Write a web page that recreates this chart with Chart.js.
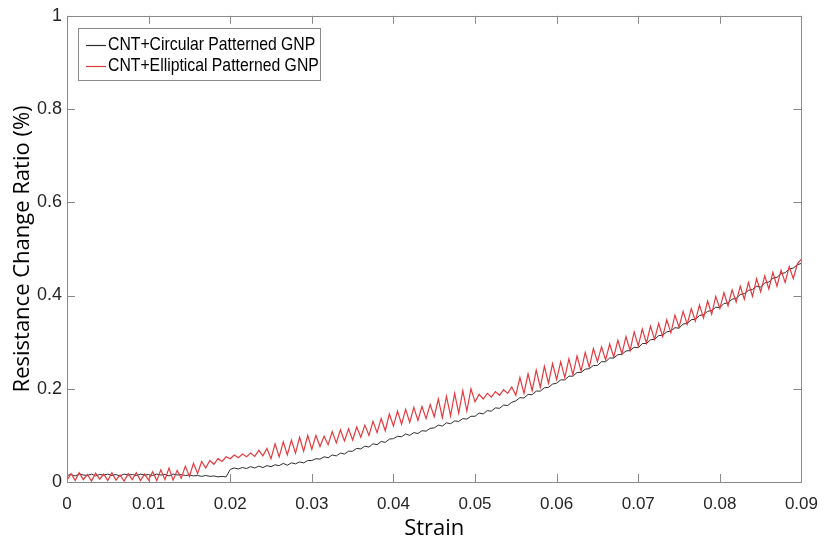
<!DOCTYPE html>
<html>
<head>
<meta charset="utf-8">
<script src="https://cdn.jsdelivr.net/npm/chart.js@4.4.1/dist/chart.umd.min.js"></script>
<style>
  html, body { margin: 0; padding: 0; background: #fff; }
  #wrap { width: 830px; height: 546px; position: relative; }
</style>
</head>
<body>
<div id="wrap"><canvas id="strainChart" width="830" height="546"></canvas></div>
<script>
// strain values (x), one sample every 0.0005
const strain = [
  0.0000,0.0005,0.0010,0.0015,0.0020,0.0025,0.0030,0.0035,0.0040,0.0045,
  0.0050,0.0055,0.0060,0.0065,0.0070,0.0075,0.0080,0.0085,0.0090,0.0095,
  0.0100,0.0105,0.0110,0.0115,0.0120,0.0125,0.0130,0.0135,0.0140,0.0145,
  0.0150,0.0155,0.0160,0.0165,0.0170,0.0175,0.0180,0.0185,0.0190,0.0195,
  0.0200,0.0205,0.0210,0.0215,0.0220,0.0225,0.0230,0.0235,0.0240,0.0245,
  0.0250,0.0255,0.0260,0.0265,0.0270,0.0275,0.0280,0.0285,0.0290,0.0295,
  0.0300,0.0305,0.0310,0.0315,0.0320,0.0325,0.0330,0.0335,0.0340,0.0345,
  0.0350,0.0355,0.0360,0.0365,0.0370,0.0375,0.0380,0.0385,0.0390,0.0395,
  0.0400,0.0405,0.0410,0.0415,0.0420,0.0425,0.0430,0.0435,0.0440,0.0445,
  0.0450,0.0455,0.0460,0.0465,0.0470,0.0475,0.0480,0.0485,0.0490,0.0495,
  0.0500,0.0505,0.0510,0.0515,0.0520,0.0525,0.0530,0.0535,0.0540,0.0545,
  0.0550,0.0555,0.0560,0.0565,0.0570,0.0575,0.0580,0.0585,0.0590,0.0595,
  0.0600,0.0605,0.0610,0.0615,0.0620,0.0625,0.0630,0.0635,0.0640,0.0645,
  0.0650,0.0655,0.0660,0.0665,0.0670,0.0675,0.0680,0.0685,0.0690,0.0695,
  0.0700,0.0705,0.0710,0.0715,0.0720,0.0725,0.0730,0.0735,0.0740,0.0745,
  0.0750,0.0755,0.0760,0.0765,0.0770,0.0775,0.0780,0.0785,0.0790,0.0795,
  0.0800,0.0805,0.0810,0.0815,0.0820,0.0825,0.0830,0.0835,0.0840,0.0845,
  0.0850,0.0855,0.0860,0.0865,0.0870,0.0875,0.0880,0.0885,0.0890,0.0895,
  0.0900
];

// CNT+Circular Patterned GNP (black)
const circular = [
  0.014,0.016,0.013,0.017,0.015,0.014,0.017,0.013,0.016,0.015,
  0.017,0.014,0.016,0.013,0.017,0.015,0.016,0.014,0.017,0.015,
  0.016,0.014,0.017,0.015,0.016,0.013,0.017,0.015,0.016,0.014,
  0.015,0.013,0.014,0.012,0.014,0.012,0.013,0.011,0.012,0.011,
  0.027,0.030,0.028,0.031,0.029,0.033,0.030,0.034,0.031,0.035,
  0.033,0.037,0.035,0.040,0.036,0.041,0.039,0.043,0.041,0.046,
  0.046,0.050,0.049,0.054,0.052,0.058,0.056,0.062,0.060,0.066,
  0.066,0.072,0.071,0.077,0.075,0.082,0.080,0.087,0.085,0.092,
  0.093,0.098,0.097,0.103,0.100,0.106,0.104,0.110,0.109,0.115,
  0.116,0.122,0.120,0.127,0.125,0.131,0.130,0.136,0.135,0.141,
  0.141,0.148,0.146,0.153,0.152,0.159,0.158,0.165,0.164,0.171,
  0.174,0.181,0.180,0.188,0.187,0.195,0.195,0.202,0.203,0.210,
  0.212,0.219,0.219,0.227,0.227,0.235,0.235,0.242,0.243,0.250,
  0.250,0.258,0.258,0.266,0.266,0.273,0.274,0.281,0.282,0.289,
  0.288,0.297,0.297,0.305,0.306,0.314,0.315,0.322,0.324,0.331,
  0.330,0.339,0.340,0.348,0.349,0.357,0.359,0.366,0.368,0.375,
  0.374,0.383,0.384,0.392,0.394,0.402,0.404,0.411,0.413,0.420,
  0.418,0.427,0.429,0.437,0.439,0.447,0.449,0.457,0.459,0.466,
  0.469
];

// CNT+Elliptical Patterned GNP (red)
const elliptical = [
  0.004,0.018,0.003,0.020,0.005,0.016,0.002,0.019,0.006,0.017,
  0.003,0.020,0.004,0.015,0.002,0.018,0.005,0.020,0.003,0.017,
  0.004,0.022,0.003,0.026,0.005,0.030,0.004,0.025,0.008,0.034,
  0.012,0.040,0.018,0.044,0.030,0.046,0.038,0.050,0.044,0.054,
  0.050,0.058,0.052,0.060,0.054,0.062,0.055,0.068,0.056,0.072,
  0.050,0.082,0.054,0.086,0.058,0.090,0.062,0.096,0.066,0.100,
  0.070,0.100,0.076,0.098,0.080,0.108,0.084,0.112,0.088,0.114,
  0.090,0.118,0.096,0.122,0.100,0.130,0.106,0.136,0.110,0.146,
  0.120,0.152,0.124,0.156,0.128,0.160,0.132,0.162,0.136,0.166,
  0.140,0.178,0.138,0.184,0.142,0.190,0.148,0.196,0.152,0.200,
  0.172,0.188,0.178,0.190,0.182,0.194,0.186,0.198,0.190,0.204,
  0.186,0.224,0.190,0.232,0.196,0.240,0.203,0.248,0.212,0.254,
  0.220,0.258,0.224,0.264,0.230,0.270,0.238,0.278,0.246,0.286,
  0.258,0.290,0.262,0.296,0.268,0.304,0.275,0.312,0.282,0.322,
  0.292,0.328,0.298,0.334,0.306,0.340,0.312,0.348,0.320,0.358,
  0.332,0.366,0.338,0.372,0.345,0.380,0.352,0.388,0.360,0.398,
  0.372,0.406,0.378,0.412,0.386,0.420,0.392,0.428,0.398,0.436,
  0.408,0.442,0.414,0.450,0.420,0.454,0.428,0.462,0.436,0.468,
  0.478
];

const seriesNames = ["CNT+Circular Patterned GNP", "CNT+Elliptical Patterned GNP"];
const seriesColors = ["#2e2e2e", "#e23a3f"];

const toPoints = (ys) => strain.map((s, i) => ({ x: s, y: ys[i] }));

// axis box + inward ticks, matlab style
const boxPlugin = {
    id: "boxPlugin",
    afterDraw(chart) {
        const { ctx, chartArea: a, scales: { x, y } } = chart;
        ctx.save();
        ctx.strokeStyle = "#8a8a8a";
        ctx.lineWidth = 1;
        ctx.beginPath();
        x.ticks.forEach(t => {
            const px = Math.round(x.getPixelForValue(t.value)) + 0.5;
            ctx.moveTo(px, a.bottom); ctx.lineTo(px, a.bottom - 8);
            ctx.moveTo(px, a.top); ctx.lineTo(px, a.top + 8);
        });
        y.ticks.forEach(t => {
            const py = Math.round(y.getPixelForValue(t.value)) + 0.5;
            ctx.moveTo(a.left, py); ctx.lineTo(a.left + 8, py);
            ctx.moveTo(a.right, py); ctx.lineTo(a.right - 8, py);
        });
        ctx.stroke();
        ctx.strokeRect(Math.round(a.left) + 0.5, Math.round(a.top) + 0.5,
            Math.round(a.right - a.left), Math.round(a.bottom - a.top));

        // legend box in the upper left corner
        const lx = 78, ly = 28, lw = 242, lh = 52;
        ctx.fillStyle = "#fff";
        ctx.fillRect(lx, ly, lw, lh);
        ctx.strokeStyle = "#8a8a8a";
        ctx.strokeRect(lx + 0.5, ly + 0.5, lw, lh);
        ctx.font = '19px "Liberation Sans", Arial, sans-serif';
        ctx.textBaseline = "middle";
        ctx.fillStyle = "#000";
        seriesNames.forEach((name, i) => {
            const cy = ly + 17 + i * 21;
            ctx.strokeStyle = seriesColors[i];
            ctx.lineWidth = 1.2;
            ctx.beginPath();
            ctx.moveTo(86, cy + 0.5); ctx.lineTo(106, cy + 0.5);
            ctx.stroke();
            // narrow text like the original
            ctx.save();
            ctx.translate(108, cy);
            ctx.scale(0.83, 1);
            ctx.fillText(name, 0, 0);
            ctx.restore();
        });
        ctx.restore();
    }
};

const ctx = document.getElementById("strainChart").getContext("2d");

const strainChart = new Chart(ctx, {
    type: "line",
    data: {
        datasets: [{
            label: seriesNames[0],
            data: toPoints(circular),
            borderColor: seriesColors[0],
            borderWidth: 1,
            pointRadius: 0,
            tension: 0,
            order: 1
        }, {
            label: seriesNames[1],
            data: toPoints(elliptical),
            borderColor: seriesColors[1],
            borderWidth: 1.2,
            pointRadius: 0,
            tension: 0,
            order: 0
        }]
    },
    options: {
        responsive: false,
        animation: false,
        layout: { padding: { left: 0, right: 19, top: 15, bottom: 0 } },
        plugins: {
            legend: { display: false },
            tooltip: { enabled: false }
        },
        scales: {
            x: {
                type: "linear",
                min: 0,
                max: 0.09,
                afterFit: (scale) => { scale.height = 64; },
                grid: { display: false, drawTicks: false },
                border: { display: false },
                ticks: {
                    stepSize: 0.01,
                    autoSkip: false,
                    maxRotation: 0,
                    padding: 12,
                    color: "#262626",
                    font: { family: '"Liberation Sans", Arial, sans-serif', size: 17 },
                    callback: (v) => parseFloat(v.toFixed(2)).toString()
                },
                title: {
                    display: true,
                    text: "Strain",
                    color: "#000",
                    font: { family: '"Open Sans", sans-serif', size: 22 },
                    padding: { top: 0, bottom: 4 }
                }
            },
            y: {
                min: 0,
                max: 1,
                afterFit: (scale) => { scale.width = 67; },
                grid: { display: false, drawTicks: false },
                border: { display: false },
                ticks: {
                    stepSize: 0.2,
                    padding: 5,
                    color: "#262626",
                    font: { family: '"Liberation Sans", Arial, sans-serif', size: 18 },
                    callback: (v) => parseFloat(v.toFixed(1)).toString()
                },
                title: {
                    display: true,
                    text: "Resistance Change Ratio (%)",
                    color: "#000",
                    font: { family: '"Open Sans", sans-serif', size: 22 },
                    padding: { top: 10, bottom: 0 }
                }
            }
        }
    },
    plugins: [boxPlugin]
});
</script>
</body>
</html>
